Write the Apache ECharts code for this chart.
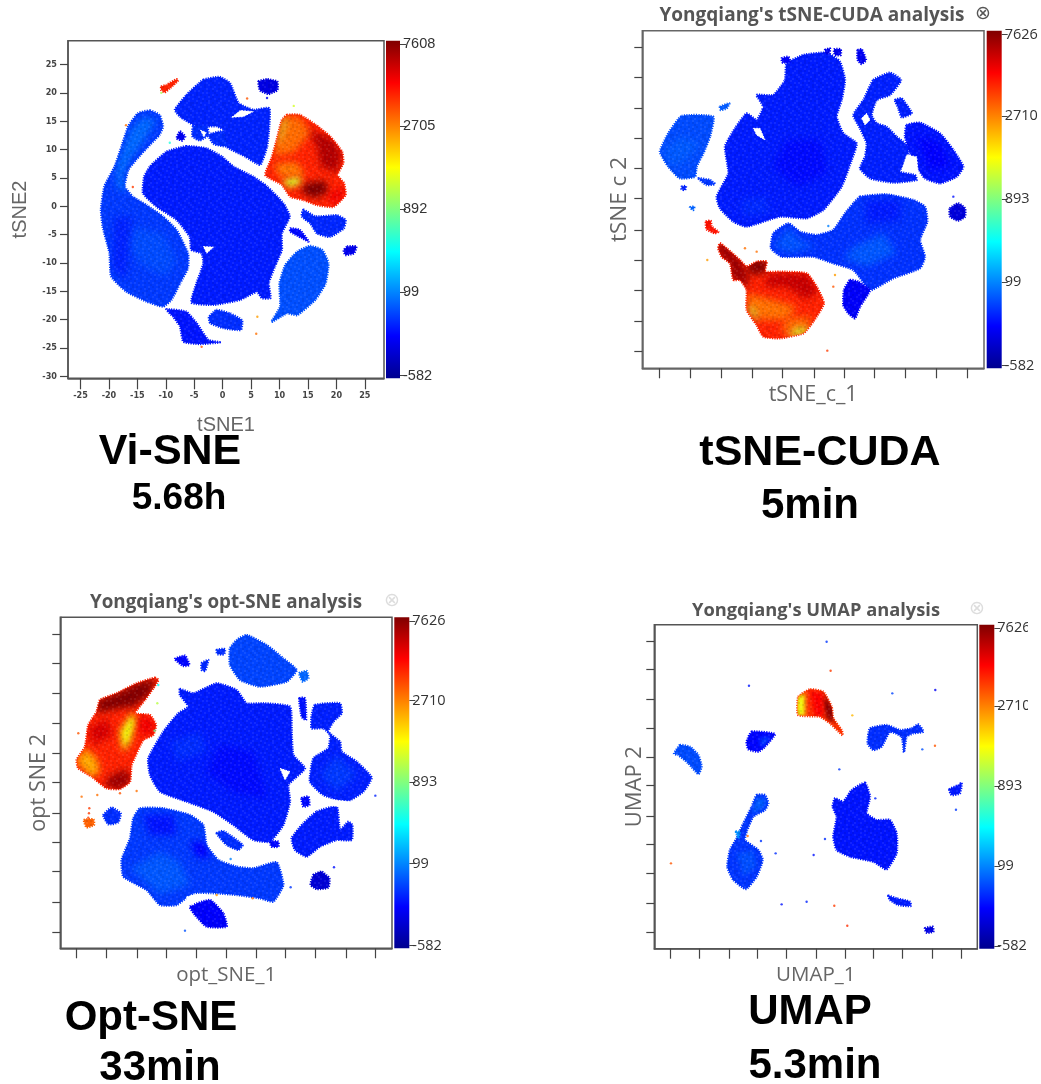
<!DOCTYPE html>
<html><head><meta charset="utf-8">
<style>html,body{margin:0;padding:0;background:#fff}#c{width:1041px;height:1084px}</style>
<script src="https://cdn.jsdelivr.net/npm/echarts@6/dist/echarts.min.js"></script>
</head><body><div id="c"></div>
<script>
// ---------- colour scale ----------
const scaleTicksA = [-582, 99, 892, 2705, 7608];
const scaleLabelsA = ['-582', '99', '892', '2705', '7608'];
const scaleLabelsB = ['-582', '99', '893', '2710', '7626'];

// ---------- Vi-SNE (tSNE1, tSNE2 units) ----------
const viTicksX = [-25,-20,-15,-10,-5,0,5,10,15,20,25];
const viTicksY = [-30,-25,-20,-15,-10,-5,0,5,10,15,20,25];
const viBlobs = [
 [-170,[[-6.4,10.6],[-2.8,10.2],[-.2,8.8],[1.9,7],[5.4,5.2],[7.8,3.5],[10.7,.5],[11.8,-1.8],[10.4,-4.8],[10.4,-7.7],[9.2,-10.6],[8.1,-13.6],[8.4,-16.2],[6.9,-16.2],[6,-15.1],[3.1,-16.5],[-1.6,-17.4],[-5.5,-17],[-4.6,-13.6],[-3.4,-10.1],[-3.7,-8.3],[-5.5,-7.7],[-5.8,-5.4],[-8.1,-2.4],[-11.6,-.1],[-14,2.3],[-13.8,5.2],[-12.8,7],[-9.9,9.6]]],
 [-90,[[-12.8,16.9],[-11.1,16.1],[-10.5,14.1],[-11.1,12.6],[-13.4,10.2],[-15.2,8.2],[-16.6,6.4],[-17.2,3.5],[-15.8,1.7],[-13.4,.2],[-10.5,-1.8],[-8.1,-4.2],[-6.1,-8.3],[-6.1,-10.9],[-7.5,-13.6],[-9,-16.5],[-10.5,-17.7],[-13.4,-16.8],[-16.9,-15.1],[-19.6,-12.4],[-19.9,-8.3],[-21.1,-3.6],[-21.4,-.6],[-20.8,3.5],[-19,7],[-17.8,10.5],[-16.6,14.1],[-14.9,16.4]]],
 [-150,[[-3.4,22.3],[-.5,22.8],[1.3,21.7],[2.8,18.2],[5.4,17],[8.2,17.3],[8.1,12.9],[7.8,10.5],[6.6,7.3],[3.9,8.8],[.7,10.5],[.1,13.5],[-1.1,14.1],[-4.6,14.1],[-7.5,15.8],[-8.4,17],[-6.4,19.6]]],
 [-330,[[6.3,22],[7.8,22.4],[9.6,22],[9.6,20.5],[8.1,19.8],[6.6,20.4]]],
 [4500,[[11.3,16.1],[13.6,16.1],[16.3,14.4],[18.9,12.3],[21,9.6],[21.2,7.6],[20.2,5.5],[21.3,4.1],[21.6,2],[19.5,-.1],[16.6,.2],[14.2,1.1],[11.9,1.7],[10.4,3.8],[7.5,5.5],[8.6,8.5],[9.5,11.7],[10.4,15.2]]],
 [-140,[[14.2,-.6],[16.3,-1.8],[20.1,-1.6],[21.6,-2.4],[21.3,-3.9],[18.9,-5.4],[16.6,-4.8],[15.4,-3],[13.9,-1.8]]],
 [-220,[[11.9,-3.9],[13.6,-4.2],[15.1,-6.2],[13.9,-5.6],[11.9,-4.5]]],
 [-300,[[21.9,-7.1],[23.5,-7.1],[23.1,-8.3],[21.6,-8.6],[21.3,-7.8]]],
 [-30,[[15.4,-7],[17.5,-7.7],[18.6,-10.1],[18.1,-13.6],[16.3,-16.5],[13.1,-19.2],[11.3,-18.9],[8.6,-20.4],[10.1,-17.7],[10,-13.6],[11,-10.4],[13.1,-8]]],
 [-120,[[-1.1,-18.3],[1.3,-18.9],[3.4,-20.1],[3.2,-21.8],[.1,-21.5],[-2.2,-20.6],[-2.4,-19.5]]],
 [-190,[[-9.9,-18.2],[-6.4,-18.6],[-4.6,-20.6],[-2.5,-23.6],[-.5,-24],[-4,-24.3],[-6.9,-23.9],[-7.5,-21.2],[-8.7,-19.5]]],
 [4500,[[-10.8,21.1],[-9.9,21.4],[-8.1,22.4],[-7.8,22.2],[-9.3,20.8],[-10.2,20.1],[-10.8,20.5]]],
 [-120,[[-5.2,14.1],[-2.8,14.1],[-2.5,12.6],[-4,11.6],[-5.3,12.3]]],
 [-280,[[-7.5,13.2],[-6.6,12.3],[-7.1,11.6],[-8.1,12]]],
 [-130,[[-2.5,12.6],[.1,13.2],[.7,10.6],[-1.6,11]]]
];
const viPatches = [
 [6600,[[14.8,13.5],[18.9,12.2],[21,9.4],[20.2,5.8],[17.2,7],[16.6,10.5]],4],
 [7600,[[14.5,4.1],[18.1,4.6],[18.6,2.3],[16,1.4],[13.6,2.6]],4],
 [3100,[[10.7,15.8],[13.6,15.8],[15.4,12.9],[12.5,9.4],[8.9,8.8],[10.1,13.5]],4],
 [1400,[[10.6,15.2],[11.3,15.8],[10.4,12.3],[9.4,10.2]],4],
 [1500,[[10.4,4.6],[13.4,5.5],[13.9,4.1],[11.6,3.2]],4],
 [5400,[[18.6,2.3],[21.4,3.5],[21,1.2],[19,.2]],4],
 [2800,[[9,7.5],[13,7.8],[14.5,5.5],[10,5.3]],4],
 [40,[[-18.7,7],[-16.3,13.5],[-14,15.8],[-11.6,15.2],[-14,11.2],[-16.3,8.2],[-17.5,5.2],[-16.9,2.3],[-18.7,3.5]],1],
 [-40,[[-15.8,-3.6],[-10.5,-4.8],[-8.1,-9.5],[-9.9,-12.4],[-14,-10.6],[-16.9,-7.1]],1],
 [-150,[[-19,-2],[-16,-2],[-17,-13],[-19.5,-11]],1]
];
const viGaps = [
 [[1.6,15.7],[3.1,16.9],[5.4,16.7],[3.6,15.8]],
 [[-3.4,-7.1],[-1.6,-7.2],[-2.8,-8.3]],
 [[1.9,8.5],[4.5,7.3],[3.4,6.7]],
 [[-3.9,13.4],[-2.9,13],[-3.3,12.2]]
];
const viStrays = [[-17,14.3,3000],[-15.8,3.4,4000],[-3.7,-24.8,3500],[4.3,19,3500],[7.8,19.1,-300],[5.9,-22.5,3000],[12.5,17.7,1500],[-9.3,11.2,600],[-10.8,20,1200],[6.1,-19.5,2500]];

// ---------- tSNE-CUDA (picture-read units) ----------
const cuTicksX = [178,270,365,456,547,642,733,824,915,1010,1101];
const cuTicksY = [143,233,326,416,506,596,690,780,870,963,1053];
const cuBlobs = [
 [-170,[[560,190],[610,165],[680,158],[720,185],[735,240],[725,300],[710,350],[730,400],[770,430],[755,480],[725,560],[670,630],[620,655],[540,650],[440,680],[400,665],[360,625],[350,590],[385,520],[375,440],[405,385],[440,340],[470,360],[490,320],[470,285],[520,285],[555,240]]],
 [-40,[[245,348],[340,350],[330,410],[310,460],[290,500],[285,530],[240,535],[205,500],[180,455],[205,400]]],
 [0,[[360,320],[388,310],[380,325],[362,330]]],
 [-100,[[295,535],[330,540],[345,552],[320,555]]],
 [-150,[[245,560],[258,558],[255,570],[245,568]]],
 [20,[[270,622],[283,620],[280,630]]],
 [-160,[[820,240],[870,218],[903,240],[870,285],[830,300],[815,345],[830,370],[860,380],[890,410],[925,440],[920,480],[900,515],[945,525],[950,540],[880,548],[810,535],[780,505],[795,470],[800,430],[780,385],[760,345],[790,300]]],
 [-160,[[885,300],[905,295],[935,340],[905,352],[895,325]]],
 [-190,[[920,375],[960,368],[1020,400],[1060,450],[1090,500],[1070,530],[1020,550],[975,535],[950,500],[930,460],[915,410]]],
 [-350,[[1050,625],[1075,610],[1095,625],[1095,650],[1075,662],[1050,650]]],
 [-300,[[675,150],[690,145],[688,160],[678,160]]],
 [-300,[[702,148],[722,148],[722,165],[705,165]]],
 [-280,[[773,150],[785,148],[798,180],[785,192],[773,180]]],
 [-250,[[545,175],[565,170],[570,185],[548,188]]],
 [-110,[[780,590],[860,583],[940,600],[975,620],[982,665],[960,720],[975,770],[960,805],[880,835],[815,870],[800,860],[760,810],[700,790],[640,770],[545,770],[513,745],[520,700],[565,670],[600,695],[650,705],[700,690],[735,640],[760,610]]],
 [-260,[[750,840],[775,845],[810,870],[780,920],[765,955],[745,940],[730,915],[732,870]]],
 [4500,[[360,730],[380,745],[420,780],[440,800],[470,785],[500,785],[495,815],[540,815],[620,820],[650,860],[672,910],[640,965],[610,1000],[540,1015],[490,1010],[470,975],[440,930],[440,870],[420,840],[400,840],[390,790],[365,770],[355,745]]],
 [4800,[[318,665],[332,662],[335,680],[355,695],[345,700],[320,688]]]
];
const cuPatches = [
 [7000,[[350,720],[385,740],[425,780],[445,830],[445,865],[415,845],[395,840],[385,790],[360,770],[350,745]],16],
 [7500,[[445,790],[470,778],[505,780],[500,820],[445,825]],16],
 [6200,[[510,820],[625,820],[655,875],[620,900],[560,860],[490,860]],16],
 [3000,[[440,880],[520,900],[590,920],[560,960],[490,960],[450,930]],16],
 [3200,[[560,950],[640,950],[610,990],[540,1000]],16],
 [1400,[[440,915],[460,950],[478,970],[462,925]],16],
 [1500,[[585,985],[635,980],[612,1002],[560,1012]],16],
 [-215,[[560,420],[660,420],[680,520],[590,560],[520,500]],0],
 [-130,[[420,600],[500,590],[510,640],[430,650]],0],
 [0,[[190,455],[240,410],[300,430],[260,480],[215,500]],1],
 [-10,[[760,740],[850,700],[890,760],[800,800],[730,775]],14],
 [-20,[[520,740],[565,680],[600,720],[650,740],[570,760]],14],
 [-170,[[800,600],[900,600],[900,660],[800,670]],14],
 [-240,[[950,410],[1020,430],[1050,500],[990,510]],8]
];
const cuGaps = [
 [[460,385],[480,385],[495,420],[470,405]],
 [[920,465],[950,470],[955,520],[905,510]],
 [[735,605],[755,605],[745,618]],
 [[785,355],[800,340],[810,360],[795,375]]
];
const cuStrays = [[435,745,3000],[322,780,2500],[700,860,3500],[705,825,2500],[682,1052,4000],[685,678,100],[1060,590,-200],[470,755,3000]];

// ---------- opt-SNE (picture-read units) ----------
const opTicksX = [170,259,352,440,528,620,709,797,885,978,1066];
const opTicksY = [147,236,326,415,504,592,684,773,860,953,1041];
const opBlobs = [
 [4500,[[405,278],[415,285],[400,310],[375,345],[345,385],[390,390],[408,420],[400,450],[370,465],[335,540],[330,590],[300,612],[260,610],[215,575],[175,550],[170,525],[195,485],[205,420],[230,380],[240,345],[290,325],[350,295]]],
 [3300,[[192,705],[220,703],[222,720],[200,727]]],
 [-170,[[480,312],[520,325],[590,295],[650,315],[680,355],[730,355],[810,365],[815,440],[820,510],[855,550],[825,580],[805,600],[810,650],[790,720],[750,770],[700,765],[640,720],[580,680],[500,650],[420,620],[390,570],[385,520],[430,440],[475,385],[505,365],[480,330]]],
 [-60,[[680,150],[740,180],[790,220],[830,255],[800,290],[720,305],[660,285],[630,240],[630,190],[650,165]]],
 [-230,[[465,222],[495,212],[508,240],[490,243]]],
 [-140,[[545,235],[565,225],[555,258],[545,255]]],
 [-120,[[590,195],[615,192],[612,208],[592,207]]],
 [30,[[838,265],[860,258],[865,280],[848,290]]],
 [-200,[[838,340],[855,340],[858,405],[845,395]]],
 [-160,[[885,360],[960,355],[965,385],[940,410],[925,440],[960,470],[965,500],[1010,530],[1055,578],[1030,620],[980,650],[910,630],[870,590],[880,520],[925,490],[930,450],[910,430],[875,430],[875,390]]],
 [-220,[[845,640],[865,635],[868,660],[850,665]]],
 [-170,[[890,680],[950,665],[960,735],[985,710],[997,720],[995,765],[950,765],[900,785],[860,815],[825,795],[815,760],[850,715]]],
 [-370,[[880,870],[905,860],[928,880],[925,908],[890,912],[872,900]]],
 [-120,[[250,690],[275,668],[302,685],[295,712],[265,718]]],
 [-120,[[590,745],[610,738],[668,780],[655,795],[620,780]]],
 [-230,[[750,770],[775,770],[775,785],[755,785]]],
 [-90,[[360,670],[430,670],[510,690],[550,720],[560,780],[595,825],[650,845],[700,850],[770,832],[790,900],[760,950],[720,940],[650,930],[590,925],[520,925],[470,960],[420,960],[380,915],[310,875],[305,825],[330,760],[340,700]]],
 [-250,[[510,965],[570,945],[610,985],[620,1025],[560,1025],[525,990]]]
];
const opPatches = [
 [7500,[[235,345],[290,325],[350,295],[410,278],[390,330],[340,365],[300,370],[230,385]],0],
 [7000,[[265,575],[320,550],[335,590],[300,615],[255,605]],0],
 [2400,[[168,530],[195,490],[230,520],[240,560],[215,578]],0],
 [1700,[[300,440],[335,385],[350,405],[330,470],[310,500]],0],
 [5900,[[205,430],[260,400],[280,450],[220,480]],0],
 [5400,[[355,395],[400,400],[405,445],[360,450]],0],
 [-215,[[600,480],[700,500],[740,640],[640,620],[560,560]],2],
 [-120,[[450,470],[540,440],[560,500],[470,530]],2],
 [-10,[[330,850],[420,800],[480,830],[510,900],[420,930]],16],
 [-240,[[510,770],[555,770],[570,820],[530,815]],16],
 [-190,[[370,690],[460,690],[470,750],[390,750]],16],
 [-90,[[900,570],[950,510],[1010,570],[950,620]],9]
];
const opGaps = [
 [[500,935],[525,930],[520,960],[500,955]],
 [[885,640],[1000,650],[980,665],[900,660]],
 [[780,550],[810,560],[795,585]]
];
const opStrays = [[185,635,3000],[208,670,4000],[207,685,4000],[205,698,4000],[232,630,3000],[300,625,3500],[350,618,3000],[415,300,500],[412,355,1300],[495,1037,-20],[590,930,2500],[698,940,3000],[632,822,100],[812,907,-100],[942,847,-200],[1066,632,-150],[175,445,3500],[404,437,800]];

// ---------- UMAP (picture-read units) ----------
const umTicksX = [181,267,357,443,529,619,705,791,878,967,1053];
const umTicksY = [153,239,328,415,501,587,678,764,850,940,1026];
const umBlobs = [
 [4200,[[565,320],[600,298],[640,305],[665,350],[670,385],[695,420],[698,436],[660,400],[630,380],[565,375]]],
 [-230,[[425,425],[495,432],[465,470],[445,485],[415,478],[410,455]]],
 [-40,[[210,465],[240,470],[265,495],[275,530],[265,552],[235,520],[205,495],[192,492]]],
 [-120,[[780,415],[830,405],[870,420],[905,415],[925,403],[940,425],[910,430],[890,440],[882,487],[875,440],[840,425],[815,470],[790,480],[773,460]]],
 [-100,[[440,615],[465,615],[475,640],[465,660],[430,680],[410,725],[405,750],[445,780],[458,810],[440,860],[408,897],[370,870],[352,830],[360,780],[380,745],[400,700],[425,650]]],
 [150,[[378,725],[390,725],[385,745]]],
 [-190,[[765,578],[780,620],[770,670],[800,690],[840,690],[860,730],[860,790],[830,838],[790,815],[720,800],[680,780],[670,740],[680,680],[668,650],[675,625],[700,635],[725,600]]],
 [-170,[[835,917],[860,925],[900,935],[902,948],[865,945],[840,930]]],
 [-330,[[945,1015],[968,1010],[970,1025],[950,1028]]],
 [-180,[[1018,598],[1045,585],[1055,578],[1050,610],[1025,615]]]
];
const umPatches = [
 [7400,[[640,310],[668,350],[675,398],[650,385],[640,350]],0],
 [1700,[[560,320],[585,310],[585,378],[560,378]],0],
 [5200,[[600,300],[640,310],[640,380],[615,380]],0],
 [-60,[[450,445],[485,440],[455,475]],1],
 [10,[[440,620],[470,630],[460,655],[425,670]],4],
 [-30,[[380,790],[430,780],[440,830],[400,860]],4]
];
const umGaps = [];
const umStrays = [[650,155,-100],[662,242,4000],[417,287,-180],[976,300,-280],[847,310,-60],[727,376,2300],[975,467,3500],[937,478,-30],[688,538,-100],[796,625,-150],[1038,659,-90],[645,747,-120],[453,753,-100],[497,790,-120],[611,795,-200],[183,820,3500],[590,935,-150],[515,943,-200],[673,947,4000],[712,1007,4300],[413,738,3000]];

// ---------- layout ----------
const jetStops = [[0,'#00008f'],[.125,'#0000ff'],[.375,'#00ffff'],[.625,'#ffff00'],[.875,'#ff0000'],[1,'#800000']];
function rgb(h){return [1,3,5].map(i=>parseInt(h.substr(i,2),16));}
function colourOf(v){
  let k = 0; while (k < 3 && v > scaleTicksA[k+1]) k++;
  const p = Math.min(1, Math.max(0, (k + (v - scaleTicksA[k]) / (scaleTicksA[k+1] - scaleTicksA[k])) / 4));
  let j = 0; while (j < 4 && p > jetStops[j+1][0]) j++;
  const a = rgb(jetStops[j][1]), b = rgb(jetStops[j+1][1]), t = (p - jetStops[j][0]) / (jetStops[j+1][0] - jetStops[j][0]);
  return 'rgb(' + a.map((c,i)=>Math.round(c + (b[i]-c)*t)).join(',') + ')';
}
// fixed grain tile that gives the blobs their mottled look
const grainRows = ['0d0l00d0l0d000l0','l00d0l000d0l0d00','00l00d0dl000d0l0','d0d0l000l0d00l0d','0l00d0l00d00l00d','d00l000d0l0d00l0','0d000l0d00l00d0l','l00d0d00l000l0d0','00l0l0d00d0l000d','0d00d00l00d00l0l','l00l00d0l00d0d00','0d00l0d00d0l00l0','d00d000l00l00d00','0l0l0d00d0d0l00d','00d00l0l000d00l0','l0d0d000d0l0d00d'];
const grainTile = document.createElement('canvas');
grainTile.width = 32; grainTile.height = 32;
(function(){
  const c = grainTile.getContext('2d');
  grainRows.forEach((r,y)=>r.split('').forEach((ch,x)=>{
    if(ch==='0') return;
    c.fillStyle = ch==='d' ? 'rgba(0,0,40,.08)' : 'rgba(255,255,255,.07)';
    c.fillRect(x*2,y*2,2,2);
  }));
})();
const panels = [
 {box:[68,40.7,316,337.6],bar:386,barW:14,xr:[-27.2,28.37],yr:[-30.35,29.2],inv:false,xT:viTicksX,yT:viTicksY,xName:'tSNE1',yName:'tSNE2',xGap:37,yGap:38,xs:20,ys:20,blobs:viBlobs,patches:viPatches,gaps:viGaps,strays:viStrays,labels:scaleLabelsA,showLabels:true,font:'Liberation Sans',soft:7,frame:'#555'},
 {box:[642.3,30.7,341.7,337.6],bar:986.7,barW:15,xr:[127,1152],yr:[92,1105],inv:true,xT:cuTicksX,yT:cuTicksY,xName:'tSNE_c_1',yName:'tSNE c 2',xGap:16,yGap:11,xs:21.5,ys:22.5,blobs:cuBlobs,patches:cuPatches,gaps:cuGaps,strays:cuStrays,labels:scaleLabelsB,font:'Open Sans',soft:7,frame:'#666'},
 {box:[60.3,617.3,331.7,331],bar:394.3,barW:15,xr:[121,1116],yr:[97,1090],inv:true,xT:opTicksX,yT:opTicksY,xName:'opt_SNE_1',yName:'opt SNE 2',xGap:16,yGap:10,xs:20.5,ys:21.7,blobs:opBlobs,patches:opPatches,gaps:opGaps,strays:opStrays,labels:scaleLabelsB,font:'Open Sans',soft:7,frame:'#555'},
 {box:[654.3,624.7,323,324],bar:979.3,barW:15,xr:[133,1102],yr:[104,1076],inv:true,xT:umTicksX,yT:umTicksY,xName:'UMAP_1',yName:'UMAP 2',xGap:16,yGap:9,xs:20.5,ys:22,blobs:umBlobs,patches:umPatches,gaps:umGaps,strays:umStrays,labels:scaleLabelsB,font:'Open Sans',soft:4,frame:'#555'}
];
const scalePositions = [.8,25.6,50.2,74.8,98.9];
const offCanvas = 3000;

const grid=[], xAxis=[], yAxis=[], series=[];
panels.forEach((p,i)=>{
  const g = grid.length;
  grid.push({left:p.box[0],top:p.box[1],width:p.box[2],height:p.box[3],show:true,backgroundColor:'#fff',borderColor:p.frame,borderWidth:1.5});
  const tick = (vals,len)=>({show:true,length:len,customValues:vals,lineStyle:{color:'#444',width:1.2}});
  const lab = (vals,m)=>p.showLabels?{show:true,customValues:vals,margin:m,fontFamily:'DejaVu Sans Condensed',fontWeight:'bold',fontSize:9,color:'#444'}:{show:false};
  xAxis.push({gridIndex:g,type:'value',min:p.xr[0],max:p.xr[1],position:'bottom',axisLine:{show:true,onZero:false,lineStyle:{color:p.frame,width:1.5}},axisTick:tick(p.xT,p.showLabels?11:10),axisLabel:lab(p.xT,13),splitLine:{show:false},name:p.xName,nameLocation:'middle',nameGap:p.xGap,nameTextStyle:{fontFamily:p.font,fontSize:p.xs,color:'#666'}});
  yAxis.push({gridIndex:g,type:'value',min:p.yr[0],max:p.yr[1],inverse:p.inv,position:'left',axisLine:{show:true,onZero:false,lineStyle:{color:p.frame,width:1.5}},axisTick:tick(p.yT,8),axisLabel:lab(p.yT,11),splitLine:{show:false},name:p.yName,nameLocation:'middle',nameGap:p.yGap,nameRotate:90,nameTextStyle:{fontFamily:p.font,fontSize:p.ys,color:'#666'}});
  const poly = (list,mode)=>({type:'custom',coordinateSystem:'cartesian2d',xAxisIndex:g,yAxisIndex:g,silent:true,clip:true,
    data:list.map(b=>mode==='gap'?b[0]:b[1][0]),
    renderItem:(params,api)=>{
      const it = list[params.dataIndex];
      const pts = (mode==='gap'?it:it[1]).map(q=>api.coord(q));
      if(mode==='patch'){
        // soft-edged interior patch: only the blurred shadow of the shape lands inside its parent blob
        const col = colourOf(it[0]);
        return {type:'polygon',shape:{points:pts.map(q=>[q[0]-offCanvas,q[1]])},
          style:{fill:col,shadowBlur:p.soft,shadowColor:col,shadowOffsetX:offCanvas},
          clipPath:{type:'polygon',shape:{points:p.blobs[it[2]][1].map(q=>api.coord(q)),smooth:.15}}};
      }
      if(mode==='grain') return {type:'polygon',shape:{points:pts,smooth:.15},style:{fill:{image:grainTile,repeat:'repeat'}}};
      if(mode==='gap') return {type:'polygon',shape:{points:pts},style:{fill:'#fff',stroke:'#fff',lineWidth:1,lineDash:[1.5,1.5]}};
      const col = colourOf(it[0]);
      return {type:'polygon',shape:{points:pts,smooth:.15},style:{fill:col,stroke:col,lineWidth:2.4,lineDash:[1.2,1.2]}};
    }});
  series.push(poly(p.blobs,'blob'),poly(p.patches,'patch'),poly(p.blobs,'grain'));
  if(p.gaps.length) series.push(poly(p.gaps,'gap'));
  series.push({type:'scatter',xAxisIndex:g,yAxisIndex:g,silent:true,symbolSize:2.4,data:p.strays,itemStyle:{color:q=>colourOf(q.value[2])}});
  // colour bar
  const h = grid.length;
  grid.push({left:p.bar,top:p.box[1],width:p.barW,height:p.box[3]});
  xAxis.push({gridIndex:h,type:'category',data:[''],show:false});
  yAxis.push({gridIndex:h,type:'value',min:0,max:100,position:'right',splitLine:{show:false},axisLine:{show:false},
    axisTick:{show:true,length:6,customValues:scalePositions,lineStyle:{color:'#444'}},
    axisLabel:{show:true,customValues:scalePositions,margin:3,fontFamily:p.font,fontSize:14.5,color:'#333',formatter:v=>p.labels[scalePositions.indexOf(v)]}});
  series.push({type:'bar',xAxisIndex:h,yAxisIndex:h,silent:true,barWidth:'100%',data:[100],
    itemStyle:{color:new echarts.graphic.LinearGradient(0,1,0,0,jetStops.map(s=>({offset:s[0],color:s[1]})))}});
});

const heading = (text,x,y,size,color,family,weight)=>({text,left:x,top:y,textAlign:'center',textVerticalAlign:'middle',padding:0,textStyle:{fontFamily:family,fontSize:size,fontWeight:weight,color}});
const title = [
 heading("Yongqiang's tSNE-CUDA analysis",812,16,19,'#555','Open Sans','bold'),
 heading("Yongqiang's opt-SNE analysis",226,603,18.8,'#555','Open Sans','bold'),
 heading("Yongqiang's UMAP analysis",816,611,18.3,'#555','Open Sans','bold'),
 heading('⊗',983,14,19,'#555','DejaVu Sans','normal'),
 heading('⊗',392,601,19,'#ddd','DejaVu Sans','normal'),
 heading('⊗',977,609,19,'#ddd','DejaVu Sans','normal'),
 heading('Vi-SNE',170,452,43,'#000','Liberation Sans','bold'),
 heading('5.68h',179,499,37,'#000','Liberation Sans','bold'),
 heading('tSNE-CUDA',820,453,43,'#000','Liberation Sans','bold'),
 heading('5min',810,506,42,'#000','Liberation Sans','bold'),
 heading('Opt-SNE',151,1018,42,'#000','Liberation Sans','bold'),
 heading('33min',160,1068,42,'#000','Liberation Sans','bold'),
 heading('UMAP',810,1012,42,'#000','Liberation Sans','bold'),
 heading('5.3min',815,1066,42,'#000','Liberation Sans','bold')
];

const chart = echarts.init(document.getElementById('c'),null,{renderer:'canvas'});
chart.setOption({animation:false,backgroundColor:'#fff',tooltip:{show:false},grid,xAxis,yAxis,series,title,
  graphic:[{type:'rect',left:1028,top:600,shape:{width:13,height:360},style:{fill:'#fff'},z:100}]});
</script></body></html>
